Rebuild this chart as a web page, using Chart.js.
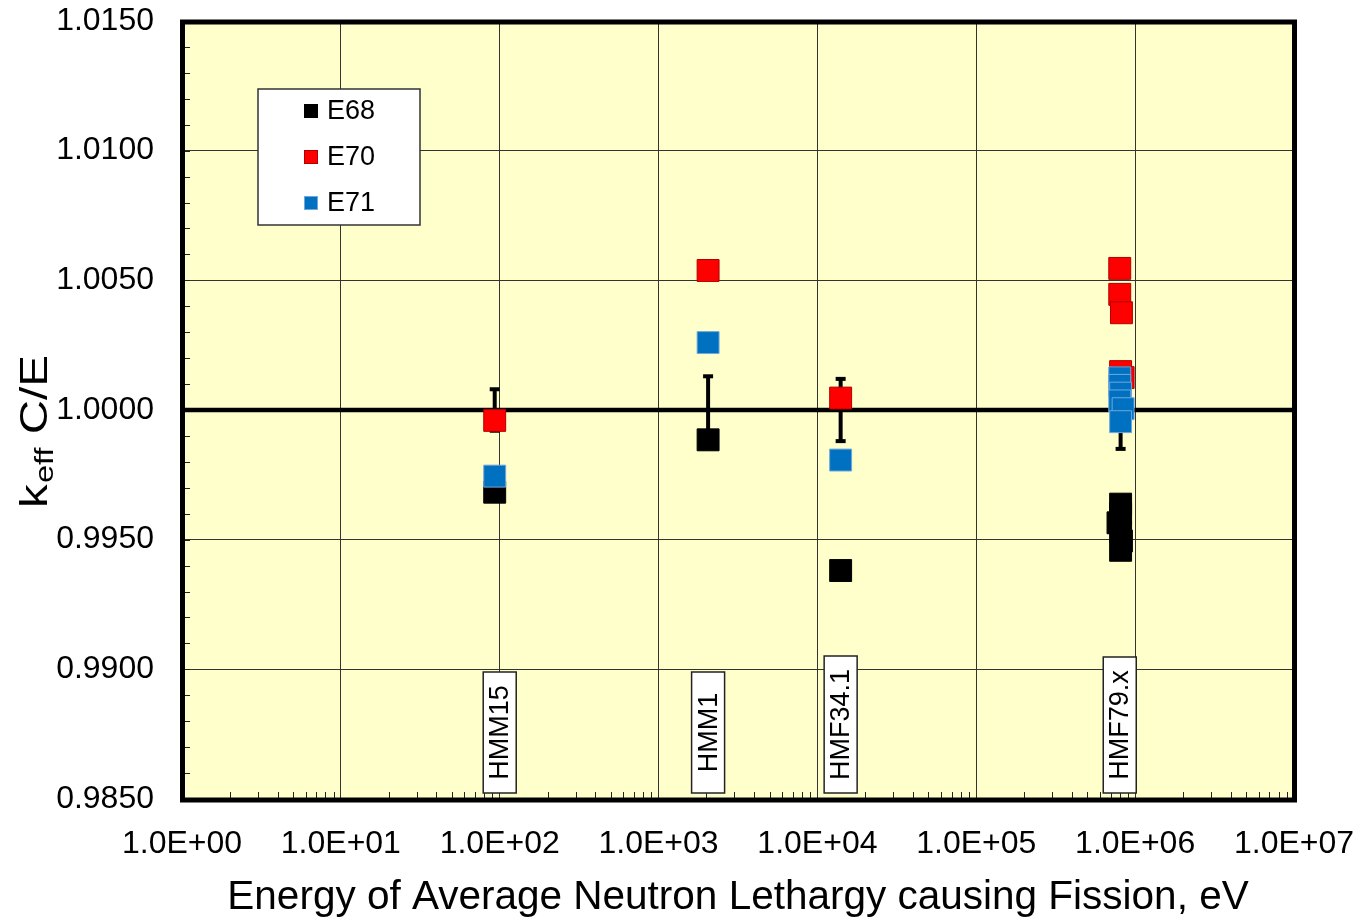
<!DOCTYPE html>
<html>
<head>
<meta charset="utf-8">
<script src="https://cdn.jsdelivr.net/npm/chart.js@4/dist/chart.umd.min.js"></script>
<style>
  html, body { margin: 0; padding: 0; background: #ffffff; }
  canvas { display: block; }
</style>
</head>
<body>
<canvas id="chart" width="1355" height="919"></canvas>
<script>
// ---- data ----
const seriesNames = ['E68', 'E70', 'E71'];

// E68 results
const e68Energy = [93, 2050, 14000, 810000, 810000, 780000, 810000, 820000, 810000];
const e68Keff   = [0.99683, 0.99885, 0.99381, 0.99637, 0.99600, 0.99565, 0.99530, 0.99495, 0.99459];

// E70 results
const e70Energy = [93, 2050, 14000, 800000, 800000, 820000, 810000, 840000];
const e70Keff   = [0.99960, 1.00538, 1.00046, 1.00546, 1.00446, 1.00375, 1.00148, 1.00125];

// E71 results
const e71Energy = [93, 2050, 14000, 800000, 800000, 810000, 800000, 840000, 810000];
const e71Keff   = [0.99745, 1.00260, 0.99807, 1.00124, 1.00095, 1.00065, 1.00035, 1.00005, 0.99955];

// benchmark names and experimental uncertainty around C/E = 1
const benchNames  = ['HMM15', 'HMM1', 'HMF34.1', 'HMF79.x'];
const benchEnergy = [93, 2050, 14000, 810000];
const benchLabelEnergy = [100, 2050, 14000, 800000];
const benchUnc    = [0.0008, 0.0013, 0.0012, 0.0015];

// axis ticks
const xTickExponents = [0, 1, 2, 3, 4, 5, 6, 7];
const yTickValues = [0.9850, 0.9900, 0.9950, 1.0000, 1.0050, 1.0100, 1.0150];

// ---- styling ----
const FONT = "'Liberation Sans', Arial, Helvetica, sans-serif";
const seriesFill   = ['#000000', '#FF0000', '#0070C0'];
const seriesBorder = ['#000000', '#B00000', '#6FA8DC'];

function pairs(xs, ys) { return xs.map((x, i) => ({ x: x, y: ys[i] })); }

const datasets = [
  { label: seriesNames[0], data: pairs(e68Energy, e68Keff), order: 3 },
  { label: seriesNames[1], data: pairs(e70Energy, e70Keff), order: 2 },
  { label: seriesNames[2], data: pairs(e71Energy, e71Keff), order: 1 }
].map((d, i) => Object.assign(d, {
  pointStyle: 'rect',
  pointRadius: 15.5,
  pointHoverRadius: 15.5,
  backgroundColor: seriesFill[i],
  borderColor: seriesBorder[i],
  pointBorderWidth: 1,
  showLine: false
}));

const decor = {
  id: 'decor',
  beforeDraw(chart) {
    const { ctx, chartArea: a } = chart;
    ctx.save();
    ctx.fillStyle = '#FFFFCC';
    ctx.fillRect(a.left, a.top, a.right - a.left, a.bottom - a.top);
    ctx.restore();
  },
  beforeDatasetsDraw(chart) {
    const { ctx, chartArea: a, scales: { x, y } } = chart;
    ctx.save();
    ctx.strokeStyle = '#222';
    ctx.lineWidth = 1;
    // minor log ticks along the bottom
    for (let e = xTickExponents[0]; e < xTickExponents[xTickExponents.length - 1]; e++) {
      for (let m = 2; m <= 9; m++) {
        const px = Math.round(x.getPixelForValue(m * Math.pow(10, e))) + 0.5;
        ctx.beginPath(); ctx.moveTo(px, a.bottom); ctx.lineTo(px, a.bottom - 7); ctx.stroke();
      }
    }
    // minor ticks on the left every 0.001
    const y0 = yTickValues[0], y1 = yTickValues[yTickValues.length - 1];
    for (let i = 0; i <= Math.round((y1 - y0) / 0.001); i++) {
      const py = Math.round(y.getPixelForValue(y0 + i * 0.001)) + 0.5;
      ctx.beginPath(); ctx.moveTo(a.left, py); ctx.lineTo(a.left + 8, py); ctx.stroke();
    }
    // benchmark name boxes
    ctx.font = '27px ' + FONT;
    benchNames.forEach((name, i) => {
      const cx = x.getPixelForValue(benchLabelEnergy[i]);
      const tw = ctx.measureText(name).width;
      const h = Math.max(121, Math.round(tw + 26));
      const w = 33;
      const bottom = a.bottom - 6;
      ctx.fillStyle = '#ffffff';
      ctx.fillRect(cx - w / 2, bottom - h, w, h);
      ctx.strokeStyle = '#222';
      ctx.lineWidth = 1.5;
      ctx.strokeRect(cx - w / 2, bottom - h, w, h);
      ctx.save();
      ctx.translate(cx, bottom - h / 2);
      ctx.rotate(-Math.PI / 2);
      ctx.fillStyle = '#000';
      ctx.textAlign = 'center';
      ctx.textBaseline = 'middle';
      ctx.fillText(name, 0, 1);
      ctx.restore();
    });
    // C/E = 1 reference line
    const py1 = y.getPixelForValue(1.0);
    ctx.strokeStyle = '#000';
    ctx.lineWidth = 4.5;
    ctx.beginPath(); ctx.moveTo(a.left, py1); ctx.lineTo(a.right, py1); ctx.stroke();
    // experimental uncertainty bars
    ctx.lineWidth = 4;
    benchEnergy.forEach((en, i) => {
      const px = x.getPixelForValue(en);
      const top = y.getPixelForValue(1 + benchUnc[i]);
      const bot = y.getPixelForValue(1 - benchUnc[i]);
      ctx.beginPath(); ctx.moveTo(px, top); ctx.lineTo(px, bot); ctx.stroke();
      ctx.beginPath(); ctx.moveTo(px - 5, top); ctx.lineTo(px + 5, top); ctx.stroke();
      ctx.beginPath(); ctx.moveTo(px - 5, bot); ctx.lineTo(px + 5, bot); ctx.stroke();
    });
    ctx.restore();
  },
  afterDraw(chart) {
    const { ctx, chartArea: a } = chart;
    ctx.save();
    // plot frame
    ctx.strokeStyle = '#000';
    ctx.lineWidth = 5;
    ctx.strokeRect(a.left + 0.5, a.top + 1, a.right - a.left, a.bottom - a.top);

    // legend
    const lx = 258, ly = 89, lw = 162, lh = 136;
    ctx.fillStyle = '#ffffff';
    ctx.fillRect(lx, ly, lw, lh);
    ctx.strokeStyle = '#333';
    ctx.lineWidth = 1.5;
    ctx.strokeRect(lx, ly, lw, lh);
    ctx.font = '27px ' + FONT;
    ctx.textBaseline = 'middle';
    ctx.textAlign = 'left';
    chart.data.datasets.forEach((ds, i) => {
      const cy = ly + 22 + i * 46;
      ctx.fillStyle = ds.backgroundColor;
      ctx.fillRect(304, cy - 7, 14, 14);
      ctx.strokeStyle = ds.borderColor;
      ctx.lineWidth = 1;
      ctx.strokeRect(304.5, cy - 6.5, 13, 13);
      ctx.fillStyle = '#000';
      ctx.fillText(ds.label, 327, cy + 1);
    });

    // y-axis title: k_eff C/E
    ctx.save();
    ctx.translate(47, 508);
    ctx.rotate(-Math.PI / 2);
    ctx.scale(1.25, 1);
    ctx.fillStyle = '#000';
    ctx.textBaseline = 'alphabetic';
    ctx.textAlign = 'left';
    ctx.font = '38px ' + FONT;
    ctx.fillText('k', 0, 0);
    let off = ctx.measureText('k').width + 1;
    ctx.font = '26px ' + FONT;
    ctx.fillText('eff', off, 6);
    off += ctx.measureText('eff').width;
    ctx.font = '38px ' + FONT;
    ctx.fillText(' C/E', off, 0);
    ctx.restore();

    ctx.restore();
  }
};

new Chart(document.getElementById('chart'), {
  type: 'scatter',
  data: { datasets: datasets },
  options: {
    responsive: false,
    animation: false,
    layout: { padding: { left: 0, top: 21, right: 61, bottom: 0 } },
    plugins: { legend: { display: false }, tooltip: { enabled: false } },
    scales: {
      x: {
        type: 'logarithmic',
        min: Math.pow(10, xTickExponents[0]),
        max: Math.pow(10, xTickExponents[xTickExponents.length - 1]),
        afterBuildTicks(scale) {
          scale.ticks = xTickExponents.map(e => ({ value: Math.pow(10, e) }));
        },
        afterFit(scale) {
          scale.height = 120;
          scale.paddingLeft = 0; scale.paddingRight = 0;
          scale.paddingTop = 0; scale.paddingBottom = 0;
        },
        ticks: {
          autoSkip: false,
          maxRotation: 0,
          padding: 26,
          color: '#000',
          font: { family: FONT, size: 32 },
          callback(value) {
            const e = Math.round(Math.log10(value));
            return '1.0E' + (e < 0 ? '-' : '+') + String(Math.abs(e)).padStart(2, '0');
          }
        },
        grid: { color: '#333', lineWidth: 1, drawTicks: false },
        border: { display: false },
        title: {
          display: true,
          text: 'Energy of Average Neutron Lethargy causing Fission, eV',
          color: '#000',
          font: { family: FONT, size: 40.5 },
          padding: { top: 0, bottom: -3 }
        }
      },
      y: {
        type: 'linear',
        min: yTickValues[0],
        max: yTickValues[yTickValues.length - 1],
        afterBuildTicks(scale) {
          scale.ticks = yTickValues.map(v => ({ value: v }));
        },
        afterFit(scale) {
          scale.width = 182;
          scale.paddingLeft = 0; scale.paddingRight = 0;
          scale.paddingTop = 0; scale.paddingBottom = 0;
        },
        ticks: {
          padding: 28,
          color: '#000',
          font: { family: FONT, size: 32 },
          callback(value) { return Number(value).toFixed(4); }
        },
        grid: { color: '#333', lineWidth: 1, drawTicks: false },
        border: { display: false }
      }
    }
  },
  plugins: [decor]
});
</script>
</body>
</html>
